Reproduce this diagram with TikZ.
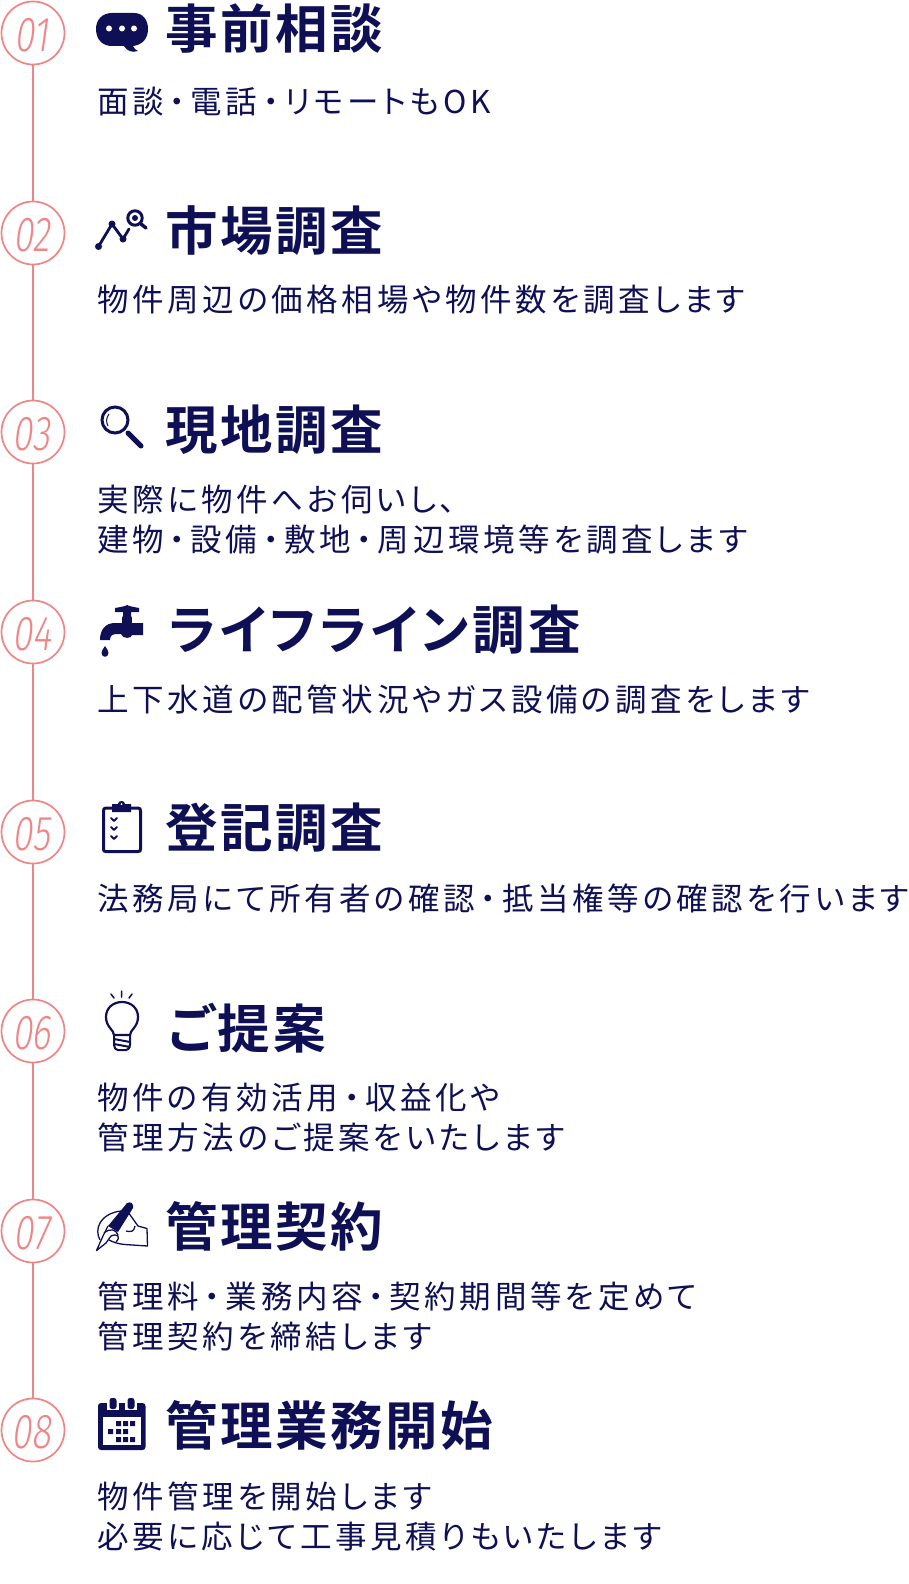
\documentclass[tikz,border=0pt]{standalone}
\usepackage{fontspec}
\newfontfamily\ttlf[RawFeature={+palt},LetterSpace=5]{Noto Sans CJK JP Bold}
\newfontfamily\ttlk[RawFeature={+palt},LetterSpace=6.5]{Noto Sans CJK JP Bold}
\newfontfamily\bodyf[RawFeature={+palt},LetterSpace=11.5]{Noto Sans CJK JP}
\newfontfamily\numf[FakeStretch=0.74,FakeSlant=0.14]{Fira Sans Light}
\newcommand{\nkdot}{\hspace{5.6pt}・\hspace{5.6pt}}
\definecolor{navy}{HTML}{0F0F55}
\definecolor{salmon}{HTML}{F08585}
\tikzset{
 x=1pt,y=-1pt,
 stepnum/.style={circle,draw=salmon,line width=1.7pt,minimum size=63pt,inner sep=0pt,text=salmon,fill=white,font=\numf\fontsize{49}{49}\selectfont,text height=37pt,execute at begin node={\hspace*{-3pt}}},
 link/.style={draw=salmon,line width=2pt},
 ttl/.style={anchor=base west,inner sep=0pt,text=navy,font=\ttlf\fontsize{52.5}{52.5}\selectfont},
 bod/.style={anchor=base west,inner sep=0pt,text=navy,font=\bodyf\fontsize{31.5}{31.5}\selectfont},
 ic/.style={draw=navy,line width=2pt,line cap=round,line join=round}
}
\begin{document}
\begin{tikzpicture}
\useasboundingbox (0,0) rectangle (908,1584);
\node[stepnum] (n1) at (33,33) {01};
\node[stepnum] (n2) at (33,233) {02};
\node[stepnum] (n3) at (33,432) {03};
\node[stepnum] (n4) at (33,632) {04};
\node[stepnum] (n5) at (33,832) {05};
\node[stepnum] (n6) at (33,1031) {06};
\node[stepnum] (n7) at (33,1231) {07};
\node[stepnum] (n8) at (33,1430) {08};
\draw[link] (n1)--(n2);
\draw[link] (n2)--(n3);
\draw[link] (n3)--(n4);
\draw[link] (n4)--(n5);
\draw[link] (n5)--(n6);
\draw[link] (n6)--(n7);
\draw[link] (n7)--(n8);
% titles
\node[ttl] (t1) at (165,49) {事前相談};
\node[ttl] (t2) at (165,250) {市場調査};
\node[ttl] (t3) at (165,449) {現地調査};
\node[ttl,font=\ttlk\fontsize{52.5}{52.5}\selectfont] (t4) at (168,649) {ライフライン調査};
\node[ttl] (t5) at (165,847) {登記調査};
\node[ttl,font=\ttlk\fontsize{52.5}{52.5}\selectfont] (t6) at (168,1048) {ご提案};
\node[ttl] (t7) at (165,1246) {管理契約};
\node[ttl] (t8) at (165,1445) {管理業務開始};
% bodies
\node[bod] (b1) at (97,113.5) {面談\nkdot 電話\nkdot リモートもOK};
\node[bod] (b2) at (97,311.5) {物件周辺の価格相場や物件数を調査します};
\node[bod] (b3a) at (97,511.5) {実際に物件へお伺いし、};
\node[bod] (b3b) at (97,551.5) {建物\nkdot 設備\nkdot 敷地\nkdot 周辺環境等を調査します};
\node[bod] (b4) at (97,711.5) {上下水道の配管状況やガス設備の調査をします};
\node[bod] (b5) at (97,910.5) {法務局にて所有者の確認\nkdot 抵当権等の確認を行います};
\node[bod] (b6a) at (97,1109.5) {物件の有効活用\nkdot 収益化や};
\node[bod] (b6b) at (97,1149.5) {管理方法のご提案をいたします};
\node[bod] (b7a) at (97,1308.5) {管理料\nkdot 業務内容\nkdot 契約期間等を定めて};
\node[bod] (b7b) at (97,1348.5) {管理契約を締結します};
\node[bod] (b8a) at (97,1508.5) {物件管理を開始します};
\node[bod] (b8b) at (97,1548.5) {必要に応じて工事見積りもいたします};
% icon 1 bubble
\fill[navy] (112,13) -- (134,13) .. controls (143,13) and (148,20) .. (148,29) .. controls (148,40) and (141,45) .. (133,46) .. controls (134,49) and (136,50) .. (138,51) .. controls (132,53) and (127,51) .. (124,46) -- (112,46) .. controls (102,46) and (96,39) .. (96,29) .. controls (96,20) and (102,13) .. (112,13) -- cycle;
\fill[white] (109,28.5) circle (3) (122,28.5) circle (3) (134,28.5) circle (3);
% icon 2 chart
\draw[ic,line width=2.8pt] (98.5,246.5) -- (112,224) -- (123,239) -- (129,229);
\fill[navy] (98.5,246.5) circle (3.5) (112,224) circle (3.5) (123,239) circle (3.5);
\draw[navy,line width=3pt] (135,218) circle (7.2);
\fill[navy] (135,218) circle (3);
\draw[ic,line width=3.5pt] (141,224) -- (146,228);
% icon 3 magnifier
\draw[navy,line width=3pt] (115,420) circle (13);
\draw[navy,line width=1pt] (108,426) .. controls (106,422) and (106,418) .. (109,414);
\draw[ic,line width=5pt] (128,433) -- (141,446);
% icon 4 faucet
\fill[navy] (115,608) .. controls (121,607) and (126,606) .. (127,605) .. controls (128,606) and (134,607) .. (139,608) -- (139,612) -- (131,612) -- (131,616) .. controls (132,616) and (132,618) .. (132,623) -- (143,623) -- (143,635) -- (132,635) .. controls (132,639) and (122,639) .. (121,634) -- (117,634) .. controls (112,634) and (110,636) .. (110,640) -- (100,640) .. controls (100,630) and (105,623) .. (115,623) -- (122,623) .. controls (122,618) and (122,616) .. (123,616) -- (123,612) -- (115,612) -- cycle;
\fill[navy] (105,646) .. controls (103,649) and (101.5,651) .. (101.5,653) .. controls (101.5,658) and (108.5,658) .. (108.5,653) .. controls (108.5,651) and (107,649) .. (105,646) -- cycle;
% icon 5 clipboard
\draw[ic,line width=3pt] (112,808) -- (106,808) .. controls (104,808) and (103.5,809) .. (103.5,811) -- (103.5,849) .. controls (103.5,851) and (104,851.5) .. (106,851.5) -- (138,851.5) .. controls (140,851.5) and (140.5,851) .. (140.5,849) -- (140.5,811) .. controls (140.5,809) and (140,808) .. (138,808) -- (131,808);
\fill[navy] (112,804) -- (118,804) .. controls (118,800) and (125,800) .. (125,804) -- (131,804) -- (131,812) -- (112,812) -- cycle;
\fill[white] (121.5,804) circle (1);
\draw[ic,line width=1.8pt] (111,818) -- (114,821) -- (117,818) (111,827) -- (114,830) -- (117,827) (111,836) -- (114,839) -- (117,836);
% icon 6 bulb
\draw[ic,line width=2.2pt] (114,1035) .. controls (114,1030) and (106,1027) .. (106,1017) .. controls (106,1008) and (113,1002) .. (122,1002) .. controls (131,1002) and (138,1008) .. (138,1017) .. controls (138,1027) and (130,1030) .. (130,1035) -- cycle;
\draw[ic,line width=2pt] (114,1035) -- (114,1045) .. controls (114,1048) and (116,1050) .. (118,1050) -- (126,1050) .. controls (128,1050) and (130,1048) .. (130,1045) -- (130,1035) (114,1039) -- (130,1042) (114,1044) -- (130,1047);
\draw[ic,line width=1.5pt] (121.5,991) -- (121.5,997) (111,994) -- (114,998) (132,994) -- (129,998);
% icon 7 hand with pen
\draw[navy,line width=1.3pt,line join=round] (121,1211) .. controls (112,1212) and (104,1216) .. (100,1223) .. controls (97,1228) and (97,1235) .. (100,1240) (128,1212) -- (138,1226) -- (147,1228.5) -- (147.5,1246) -- (125,1244.5) .. controls (118,1244) and (113,1242) .. (109,1240) (126,1231) .. controls (131,1232) and (134,1232) .. (135,1226);
\fill[navy] (123,1208) -- (127,1203) .. controls (131,1201) and (134,1204) .. (133,1208) -- (118,1232) -- (108,1226) -- cycle;
\draw[navy,line width=1.3pt,line join=round] (108,1226) -- (103,1236) -- (96.5,1250.5) -- (106,1243) -- (111,1236) .. controls (118,1233) and (121,1237) .. (116,1242);
\draw[navy,line width=1.3pt] (104,1233) .. controls (110,1228) and (116,1229) .. (118,1235);
% icon 8 calendar
\fill[navy,rounded corners=3pt] (98,1403) rectangle (145.5,1450);
\fill[white] (102.5,1417) rectangle (141,1445);
\fill[white] (107,1398) rectangle (119,1410);
\fill[white] (125,1398) rectangle (137,1410);
\fill[navy,rounded corners=2.5pt] (109.5,1398) rectangle (116.5,1409);
\fill[navy,rounded corners=2.5pt] (127.5,1398) rectangle (134.5,1409);
\fill[navy] (116,1421) rectangle (121,1426) (123,1421) rectangle (128,1426) (130,1421) rectangle (135,1426);
\fill[navy] (108,1429) rectangle (113,1434) (116,1429) rectangle (121,1434) (123,1429) rectangle (128,1434);
\fill[navy] (116,1437) rectangle (121,1442) (123,1437) rectangle (128,1442) (130,1437) rectangle (135,1442);
\end{tikzpicture}
\end{document}
